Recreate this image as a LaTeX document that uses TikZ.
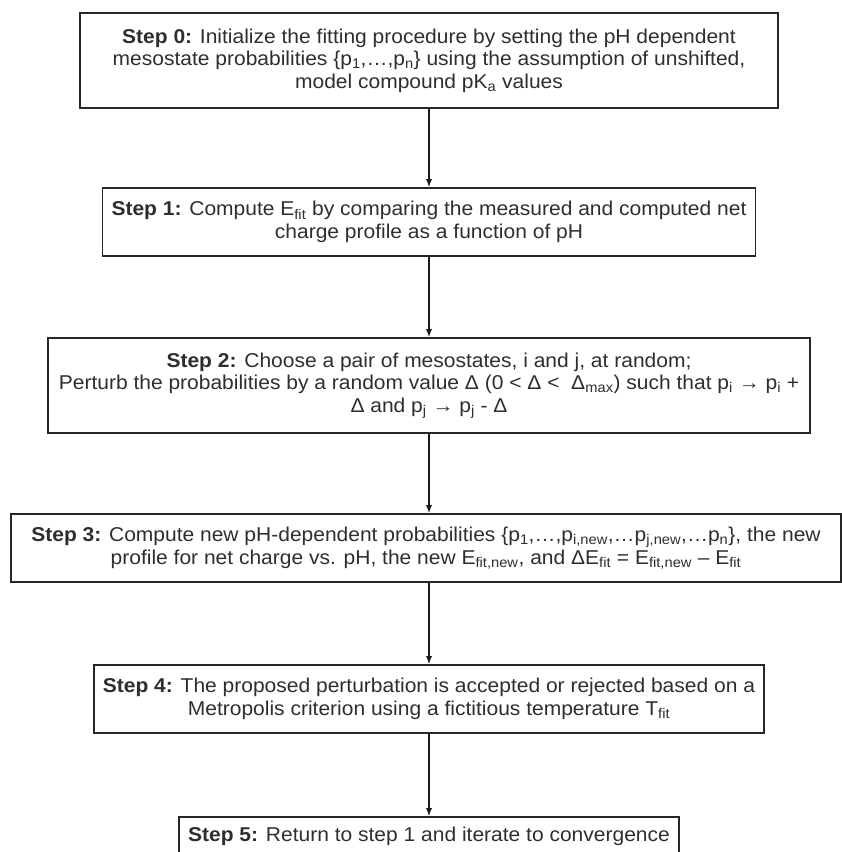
\documentclass[tikz,border=0pt]{standalone}
\usepackage{fontspec}
\setmainfont[FakeStretch=1.05]{Liberation Sans}
\usetikzlibrary{arrows.meta,positioning}
\tikzset{flow/.style={-{Latex[length=8pt,width=6pt]}, line width=1.2pt, draw=black!90},
  stepbox/.style={draw=black!85, line width=1.6pt, align=center, inner xsep=9pt,
    text=black!82, font=\fontsize{20}{22.5}\selectfont}}
\newcommand\sbs[1]{\textsubscript{#1}}

\begin{document}
\begin{tikzpicture}[x=1pt,y=1pt]
  \clip (0,0) rectangle (842,-852);
  % steps
  \node[stepbox, minimum width=698pt, minimum height=95pt] (s0) at (429,-60.5)
    {\textbf{Step 0:} Initialize the fitting procedure by setting the pH dependent\\
     mesostate probabilities \{p\sbs{1},…,p\sbs{n}\} using the assumption of unshifted,\\
     model compound pK\sbs{a} values};
  \node[stepbox, minimum height=68pt] (s1) at (429,-222)
    {\textbf{Step 1:} Compute E\sbs{fit} by comparing the measured and computed net\\
     charge profile as a function of pH};
  \node[stepbox, minimum width=762pt, minimum height=95pt, inner xsep=4pt] (s2) at (429,-385.5)
    {\textbf{Step 2:} Choose a pair of mesostates, i and j, at random;\\
     Perturb the probabilities by a random value Δ (0 < Δ <~ Δ\sbs{max}) such that p\sbs{i} → p\sbs{i} +\\
     Δ and p\sbs{j} → p\sbs{j} - Δ};
  \node[stepbox, minimum width=830pt, minimum height=68pt, inner xsep=4pt] (s3) at (426,-548)
    {\textbf{Step 3:} Compute new pH-dependent probabilities \{p\sbs{1},…,p\sbs{i,new},…p\sbs{j,new},…p\sbs{n}\}, the new\\
     profile for net charge vs. pH, the new E\sbs{fit,new}, and ΔE\sbs{fit} = E\sbs{fit,new} – E\sbs{fit}};
  \node[stepbox, minimum height=68pt] (s4) at (429,-699)
    {\textbf{Step 4:} The proposed perturbation is accepted or rejected based on a\\
     Metropolis criterion using a fictitious temperature T\sbs{fit}};
  \node[stepbox, minimum height=38pt] (s5) at (429,-836)
    {\textbf{Step 5:} Return to step 1 and iterate to convergence};
  % arrows
  \draw[flow] (s0) -- (s1);
  \draw[flow] (s1) -- (s2);
  \draw[flow] (s2.south) -- (s2.south |- s3.north);
  \draw[flow] (s3.south -| s4.north) -- (s4.north);
  \draw[flow] (s4) -- (s5);
\end{tikzpicture}
\end{document}
